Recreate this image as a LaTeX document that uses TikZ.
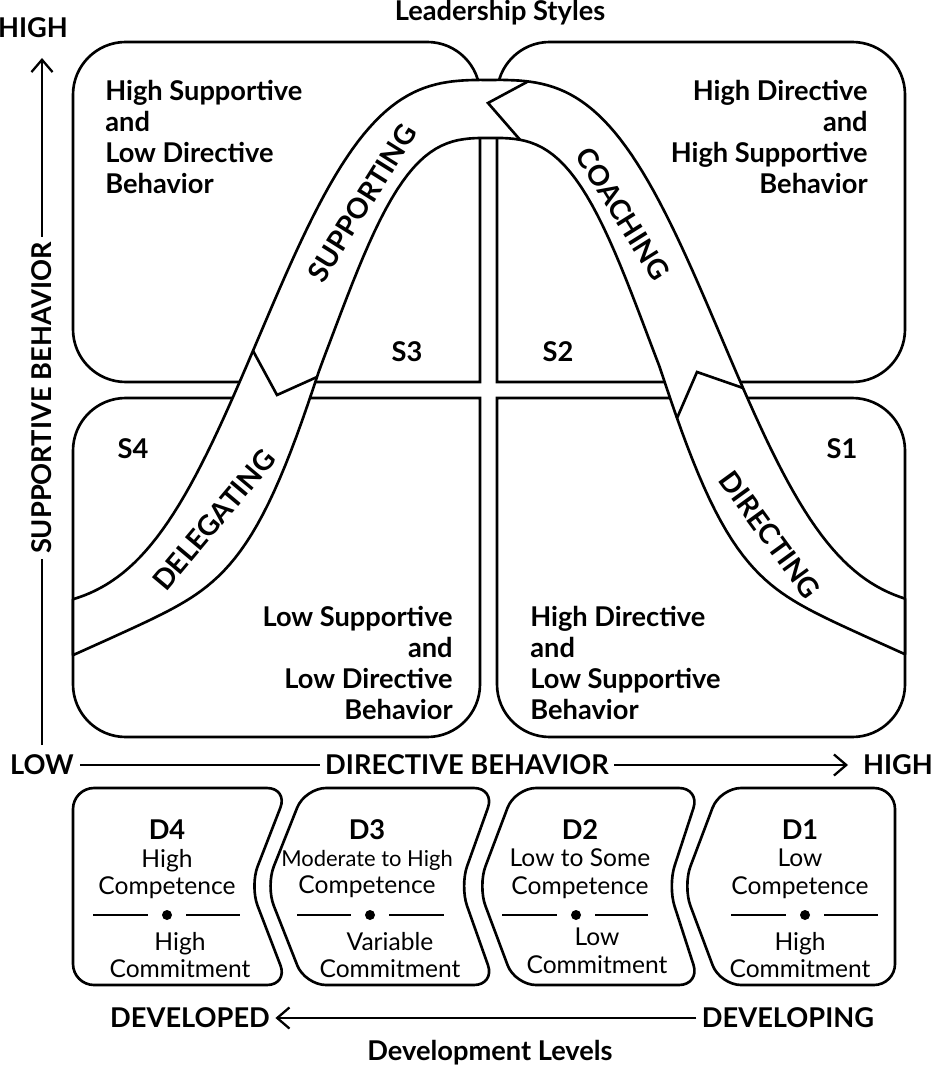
\documentclass[tikz,border=0pt]{standalone}
\usepackage{fontspec}
\setmainfont{Lato}
\usetikzlibrary{arrows.meta}
\tikzset{
  box/.style={line width=1.5pt, line cap=rect},
  quad/.style={font=\bfseries\fontsize{15.5}{17.6}\selectfont, inner sep=0pt},
  band/.style={font=\bfseries\fontsize{16}{18}\selectfont, inner sep=0pt},
  lvl/.style={font=\fontsize{14}{15.8}\selectfont, align=center, inner sep=0pt},
  axis/.style={font=\bfseries\fontsize{15.5}{17}\selectfont, fill=white, inner sep=3pt},
  ax/.style={line width=1.3pt, -{Straight Barb[length=7pt,width=12pt,line width=1.3pt]}}
}
\begin{document}
\begin{tikzpicture}[x=0.02cm, y=-0.02cm,
  declare function={yo(\t)=80+530*(1-exp(-((abs(\t-490)+0.01)/265)^3));
                    yi(\t)=138+406*(1-exp(-((abs(\t-490)+0.01)/180.5)^3))+0.45*max(0,abs(\t-490)-170);}]
\useasboundingbox (0,0) rectangle (933,1070);
% quadrants
\draw [box, rounded corners=30] (480,382) -- (480,42) -- (73,42) -- (73,382) -- (480,382);
\draw [box, rounded corners=30] (497,382) -- (497,42) -- (905,42) -- (905,382) -- (497,382);
\draw [box, rounded corners=30] (480,398) -- (480,737) -- (73,737) -- (73,398) -- (480,398);
\draw [box, rounded corners=30] (497,398) -- (497,737) -- (905,737) -- (905,398) -- (497,398);
% the band
\draw [line width=1.5pt, fill=white, line join=round]
  plot [domain=73:905, samples=150] (\x,{yo(\x)}) -- (905,{yi(905)})
  -- plot [domain=905:73, samples=150] (\x,{yi(\x)}) -- cycle;
\draw [line width=1.5pt, line join=miter] (253,{yo(253)}) -- (277,395) -- (317,{yi(317)});
\draw [line width=1.5pt, line join=miter] (677,{yi(677)}) -- (697,372) -- (743,{yo(743)});
\draw [line width=1.5pt, line join=miter] (528,{yo(528)}) -- (488,103) -- (520,{yi(520)});
\node (sup) [band, rotate=58] at (362,203) {SUPPORTING};
\node (coa) [band, rotate=-58] at (623,214) {COACHING};
\node (del) [band, rotate=50] at (214,520) {DELEGATING};
\node (dir) [band, rotate=-54] at (770,535) {DIRECTING};
% quadrant texts
\node (tl) [quad, anchor=west, align=left] at (105,137) {High Supportive\\and\\Low Directive\\Behavior};
\node (tr) [quad, anchor=east, align=right] at (868,137) {High Directive\\and\\High Supportive\\Behavior};
\node (bl) [quad, anchor=east, align=right] at (453,663) {Low Supportive\\and\\Low Directive\\Behavior};
\node (br) [quad, anchor=west, align=left] at (530,663) {High Directive\\and\\Low Supportive\\Behavior};
\node (s3) [quad] at (407,352) {S3};
\node (s2) [quad] at (558,352) {S2};
\node (s4) [quad] at (133,449) {S4};
\node (s1) [quad] at (842,449) {S1};
% axes
\coordinate (yb) at (42,745);
\coordinate (yt) at (42,58);
\draw [ax] (yb) -- (yt);
\node (ylab) [axis, rotate=90] at (42,398) {SUPPORTIVE BEHAVIOR};
\node (yhigh) [axis, fill=none] at (33,28) {HIGH};
\node (low) [axis, fill=none] at (42,765) {LOW};
\node (xhigh) [axis, fill=none] at (898,765) {HIGH};
\coordinate (xl) at (80,765);
\coordinate (xr) at (848,765);
\draw [ax] (xl) -- (xr);
\node (xlab) [axis] at (467,765) {DIRECTIVE BEHAVIOR};
\node (title) [axis, fill=none] at (500,13) {Leadership Styles};
% development levels
\draw [box, rounded corners=12] (73,886) -- (73,788) -- (288,788) -- (250,886) -- (288,985) -- (73,985) -- cycle;
\draw [box, rounded corners=12] (266,886) -- (305,788) -- (495,788) -- (460,886) -- (495,985) -- (305,985) -- cycle;
\draw [box, rounded corners=12] (478,886) -- (515,788) -- (700,788) -- (668,886) -- (700,985) -- (515,985) -- cycle;
\draw [box, rounded corners=12] (683,886) -- (720,788) -- (895,788) -- (895,985) -- (720,985) -- cycle;
\node (d4) [quad] at (167,830) {D4};
\node (d3) [quad] at (367,830) {D3};
\node (d2) [quad] at (580,830) {D2};
\node (d1) [quad] at (800,830) {D1};
\node (d4a) [lvl] at (167,874) {High\\Competence};
\node (d3a) [lvl] at (367,874) {{\fontsize{12.5}{15.8}\selectfont Moderate to High}\\Competence};
\node (d2a) [lvl] at (580,874) {Low to Some\\Competence};
\node (d1a) [lvl] at (800,874) {Low\\Competence};
\node (d4b) [lvl] at (180,955) {High\\Commitment};
\node (d3b) [lvl] at (390,955) {Variable\\Commitment};
\node (d2b) [lvl] at (597,951) {Low\\Commitment};
\node (d1b) [lvl] at (800,955) {High\\Commitment};
\foreach \a/\m/\b in {93/167/240, 297/370/444, 502/576/648, 731/805/878} {
  \draw [line width=1.5pt] (\a,915) -- (\m-19,915);
  \draw [line width=1.5pt] (\m+19,915) -- (\b,915);
  \fill (\m,915) circle (5);
}
\node (dved) [axis, fill=none] at (190,1018) {DEVELOPED};
\node (dving) [axis, fill=none] at (788,1018) {DEVELOPING};
\draw [ax] (dving.west) -- (dved.east);
\node (dlev) [axis, fill=none] at (490,1053) {Development Levels};
\end{tikzpicture}
\end{document}
